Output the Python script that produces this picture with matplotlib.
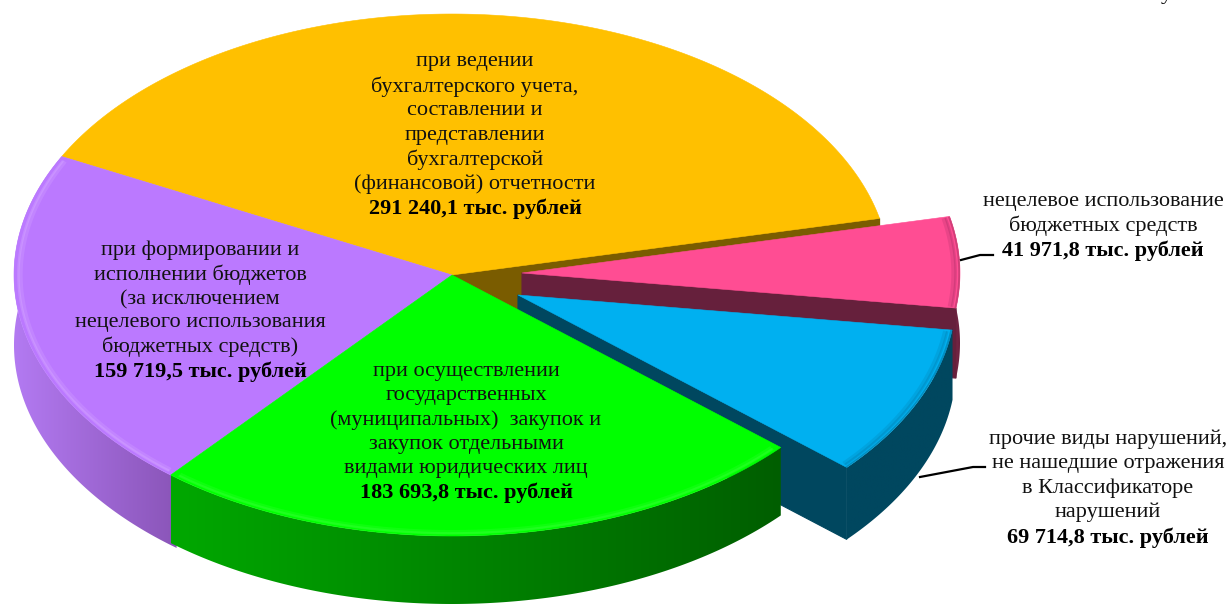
import numpy as np
import matplotlib
matplotlib.use("Agg")
import matplotlib.pyplot as plt
from matplotlib.patches import Polygon
from matplotlib.colors import to_rgb

plt.rcParams['font.family'] = ['Liberation Serif', 'DejaVu Serif']

# slices, clockwise starting from the gold one
values = [291240.1, 41971.8, 69714.8, 183693.8, 159719.5]
top_colors = ["#FFC000", "#FF4D93", "#00B0F0", "#00FF00", "#BB79FF"]
face_colors = ["#7A5C00", "#66203C", "#00475F", "#006000", "#8A55B8"]
wall_left = ["#7A5C00", "#8A2A52", "#00475F", "#00A800", "#B37AF2"]
wall_right = ["#7A5C00", "#66203C", "#00475F", "#005E00", "#8A55B8"]
rim_colors = ["#E0A800", "#A02860", "#0078A8", "#66FF66", "#DDB4FF"]
rim_alpha = [0.0, 0.3, 0.3, 0.2, 0.3]

gold_lines = ["при ведении", "бухгалтерского учета,", "составлении и", "представлении",
              "бухгалтерской", "(финансовой) отчетности"]
pink_lines = ["нецелевое использование", "бюджетных средств"]
blue_lines = ["прочие виды нарушений,", "не нашедшие отражения", "в Классификаторе", "нарушений"]
green_lines = ["при осуществлении", "государственных", "(муниципальных)  закупок и",
               "закупок отдельными", "видами юридических лиц"]
purple_lines = ["при формировании и", "исполнении бюджетов", "(за исключением",
                "нецелевого использования", "бюджетных средств)"]

cx, cy = 452, 275
rx, ry = 438, 261
start_angle = 207.0
offsets = [(0, 0), (70, -2), (66, 20), (0, 0), (0, 0)]
depths = [68, 70, 72, 68, 70]

fig = plt.figure(figsize=(12.3, 6.04), dpi=100)
ax = fig.add_axes([0, 0, 1, 1])
ax.axis("off")

fracs = np.array(values) / sum(values)
edges = start_angle + np.concatenate([[0], np.cumsum(fracs) * 360])


def rim(i, t, r=1.0):
    a = np.radians(t)
    return (cx + offsets[i][0] + r * rx * np.cos(a), cy + offsets[i][1] + r * ry * np.sin(a))


def draw_face(i, t, zorder):
    # flat cut side of a slice, from centre to rim
    x0, y0 = cx + offsets[i][0], cy + offsets[i][1]
    x1, y1 = rim(i, t)
    d = depths[i]
    ax.fill([x0, x1, x1, x0], [y0, y1, y1 + d, y0 + d], facecolor=face_colors[i],
            edgecolor=face_colors[i], lw=0.8, zorder=zorder)


def draw_wall(i, zorder, lead=0.0):
    # lead pulls the wall a bit under its neighbour so no white seam shows
    ts = np.linspace(edges[i] - lead, edges[i + 1], 200)
    x, y = rim(i, ts)
    d = depths[i]
    pts = np.r_[np.c_[x, y], np.c_[x, y + d][::-1]]
    c0, c1 = np.array(to_rgb(wall_left[i])), np.array(to_rgb(wall_right[i]))
    grad = np.linspace(0, 1, 256)[None, :, None]
    img = c0 + (c1 - c0) * grad
    im = ax.imshow(img, extent=[x.min(), x.max(), (y + d).max(), y.min()], aspect="auto",
                   interpolation="bilinear", zorder=zorder)
    im.set_clip_path(Polygon(pts, transform=ax.transData))


def draw_top(i, zorder):
    ts = np.linspace(edges[i], edges[i + 1], 200)
    x, y = rim(i, ts)
    ax.fill(np.r_[cx + offsets[i][0], x], np.r_[cy + offsets[i][1], y],
            color=top_colors[i], lw=0.4, zorder=zorder)
    # soft bevel along the rim
    if i != 0:
        xb, yb = rim(i, ts[2:-2], 0.985)
        ax.plot(xb, yb, color=rim_colors[i], lw=3.0, alpha=rim_alpha[i] * 0.7, zorder=zorder + 0.1,
                solid_capstyle="butt")
        xb, yb = rim(i, ts[2:-2], 0.99)
        ax.plot(xb, yb, color=rim_colors[i], lw=1.8, alpha=rim_alpha[i], zorder=zorder + 0.2,
                solid_capstyle="butt")
    if i in (1, 2):
        xb, yb = rim(i, ts, 0.998)
        ax.plot(xb, yb, color=face_colors[i], lw=1.2, alpha=0.3, zorder=zorder + 0.3, solid_capstyle="butt")


# back to front: gold, pink, blue, then the two front slices
draw_face(0, edges[1], 1)
draw_top(0, 2)
draw_wall(1, 3)
draw_face(1, edges[2], 3)
draw_top(1, 4)
draw_face(2, edges[3], 5)
draw_wall(2, 5.5, lead=0.5)
draw_top(2, 6)
draw_wall(4, 7, lead=1.0)
draw_top(4, 8)
draw_wall(3, 9)
draw_top(3, 10)


def money(v):
    return f"{v:,.1f}".replace(",", " ").replace(".", ",") + " тыс. рублей"


def block(lines, value, x, ys):
    for line, y in zip(lines, ys):
        ax.text(x, y + 1.5, line, fontsize=16, ha="center", va="center", color="#111111", zorder=20)
    ax.text(x, ys[-1] + 1.5, money(value), fontsize=16, fontweight="bold", ha="center", va="center",
            color="black", zorder=20)


block(gold_lines, values[0], 475, [60, 85, 109, 134, 158, 183, 207])
block(pink_lines, values[1], 1103, [200, 224, 249])
block(blue_lines, values[2], 1108, [438, 462, 487, 511, 536])
block(green_lines, values[3], 466, [370, 394, 419, 443, 467, 491])
block(purple_lines, values[4], 200, [249, 273, 298, 321, 345, 370])

# leader lines
ax.plot([961, 980, 993], [260, 255, 255], color="black", lw=1.6, zorder=20)
ax.plot([920, 973, 985], [477, 467, 467], color="black", lw=1.6, zorder=20)

# tail of a clipped letter at the top edge of the source picture
ax.text(1166, -1, "у", fontsize=16, ha="center", va="baseline", color="black", clip_on=True)

ax.set_xlim(0, 1230)
ax.set_ylim(604, 0)

fig.savefig("out.png", dpi=100)
